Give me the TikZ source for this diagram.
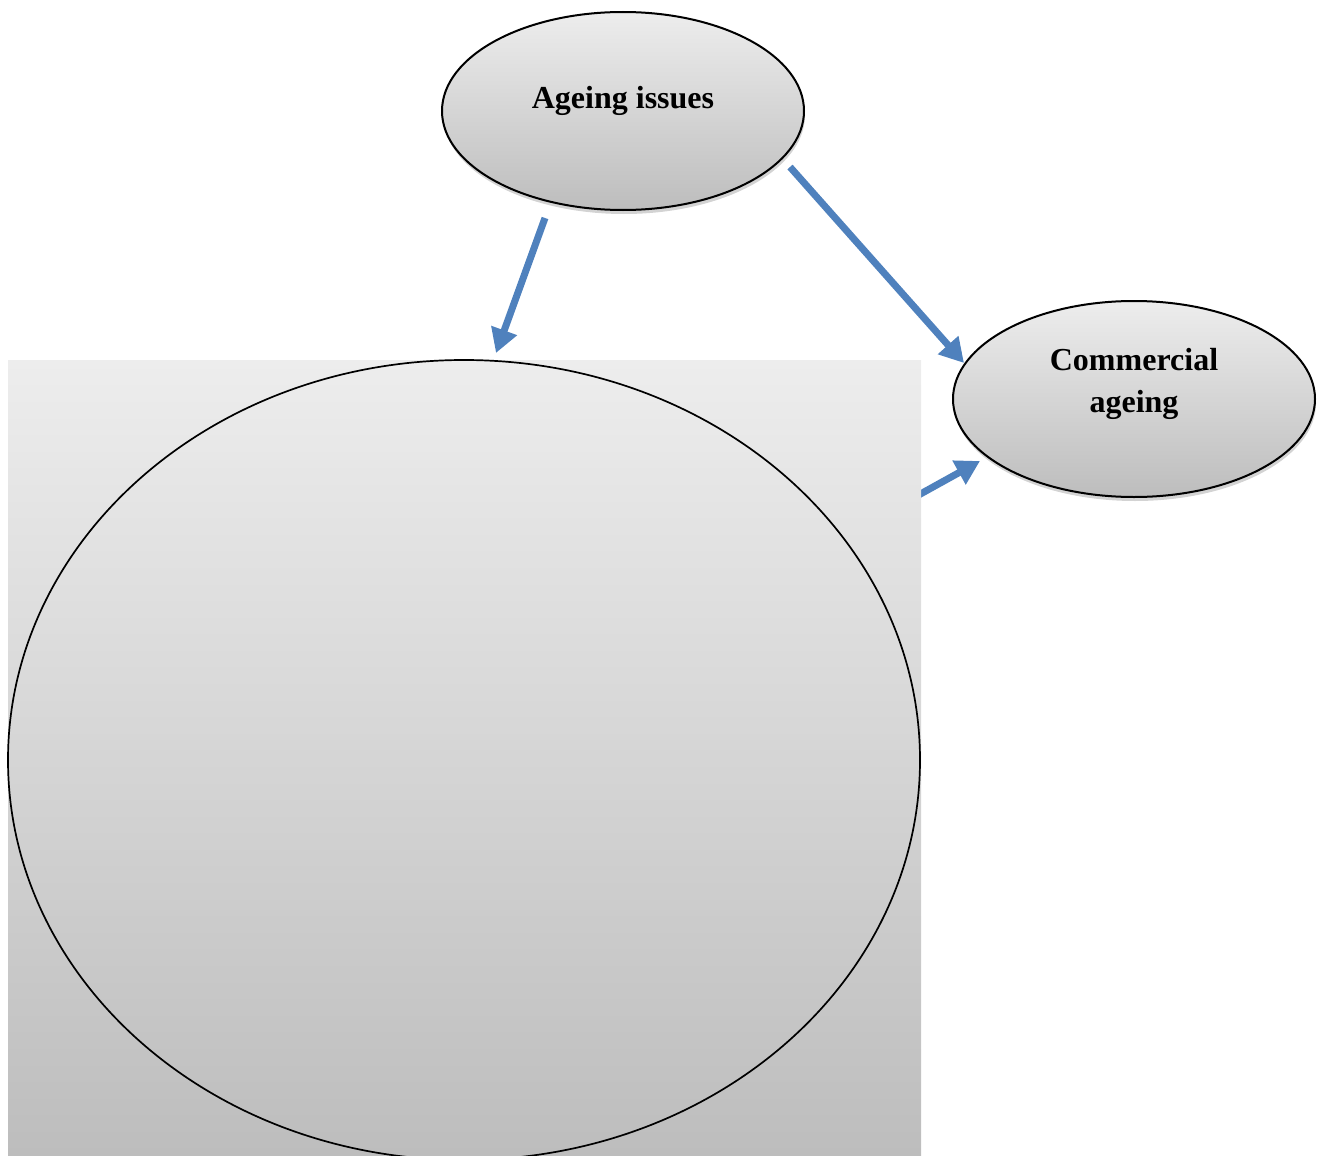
\documentclass[tikz,border=0pt]{standalone}
\usepackage{fontspec}
\setmainfont{Liberation Serif}
\usetikzlibrary{shapes.geometric,arrows.meta,shadows}
\definecolor{arrowblue}{HTML}{4F81BD}
\definecolor{gtop}{HTML}{EDEDED}
\definecolor{gbot}{HTML}{BDBDBD}
\tikzset{
  bubble/.style={ellipse, draw=black, line width=2pt, top color=gtop, bottom color=gbot,
    drop shadow={shadow xshift=1pt, shadow yshift=-4pt, opacity=0.35},
    font=\fontsize{32}{42}\selectfont\bfseries, align=center, inner sep=0pt},
  flow/.style={draw=arrowblue, line width=7pt, -{Triangle[length=24pt,width=26pt]}}
}
\begin{document}
\begin{tikzpicture}[x=1pt,y=-1pt]
\useasboundingbox (0,0) rectangle (1323,1156);
% arrow from the big circle (hidden behind panel)
\coordinate (c1s) at (915,497);
\coordinate (c1e) at (980,461);
\draw[flow] (c1s) -- (c1e);
% panel
\node[rectangle, minimum width=913pt, minimum height=796pt, inner sep=0pt,
  top color=gtop, bottom color=gbot, anchor=north west] (panel) at (8,360) {};
\begin{scope}
\clip (0,0) rectangle (1323,1156);
\node[ellipse, draw=black, line width=1.7pt, minimum width=912pt, minimum height=800pt, inner sep=0pt] (big) at (464,760) {};
\end{scope}
\node[bubble, minimum width=362pt, minimum height=198pt] (issues) at (623,111) {};
\node[font=\fontsize{32}{42}\selectfont\bfseries] (issuestext) at (623,101) {Ageing issues};
\node[bubble, minimum width=362pt, minimum height=196pt] (comm) at (1134,399) {};
\node[font=\fontsize{32}{42}\selectfont\bfseries, align=center] (commtext) at (1134,384) {Commercial\\ageing};
\coordinate (a1s) at (545,218);
\coordinate (a1e) at (496,353);
\draw[flow] (a1s) -- (a1e);
\coordinate (a2s) at (790,167);
\coordinate (a2e) at (964,363);
\draw[flow] (a2s) -- (a2e);
\end{tikzpicture}
\end{document}
